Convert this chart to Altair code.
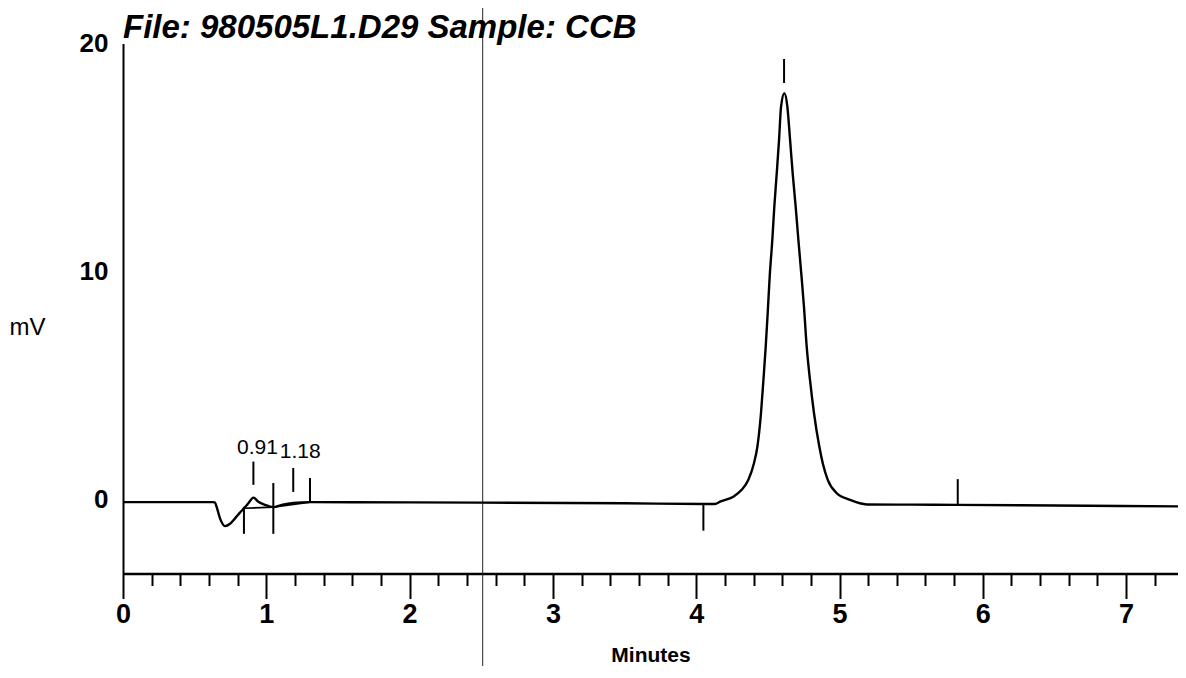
import altair as alt
import pandas as pd

FONT = "Liberation Sans"

# detector trace (minutes, mV)
trace_t = [0.0, 0.63, 0.642, 0.654, 0.677, 0.712, 0.747, 0.782, 0.816, 0.844,
           0.875, 0.91, 0.944, 0.991, 1.049, 1.107, 1.188, 1.305, 2.0, 2.5,
           3.5, 4.05, 4.131, 4.166, 4.259, 4.317, 4.364, 4.403, 4.427, 4.452,
           4.469, 4.485, 4.499, 4.513, 4.531, 4.545, 4.562, 4.578, 4.592, 4.615,
           4.636, 4.655, 4.673, 4.694, 4.713, 4.733, 4.752, 4.771, 4.794, 4.822,
           4.859, 4.883, 4.918, 4.981, 5.073, 5.19, 5.5, 5.825, 6.5, 7.42]
trace_mv = [-0.12, -0.12, -0.14, -0.34, -0.83, -1.17, -1.07, -0.83, -0.58, -0.39,
            -0.17, 0.08, -0.10, -0.24, -0.34, -0.24, -0.15, -0.12, -0.13, -0.14,
            -0.17, -0.20, -0.20, -0.10, 0.12, 0.42, 0.86, 1.59, 2.32, 3.78,
            5.24, 6.70, 8.2, 9.8, 11.38, 12.84, 14.31, 15.77, 17.23, 17.82,
            17.23, 15.77, 14.31, 12.84, 11.38, 9.92, 8.45, 6.70, 5.24, 3.78,
            2.32, 1.59, 0.86, 0.27, -0.02, -0.22, -0.23, -0.24, -0.27, -0.31]

# integration baseline segments under the small peaks
base_t = [0.844, 1.049, 1.305]
base_mv = [-0.39, -0.34, -0.12]

# peak start/apex/end markers
mark_t = [0.844, 0.91, 1.049, 1.188, 1.305, 4.05, 4.613, 5.825]
mark_lo = [-1.51, 0.64, -1.51, 0.33, -0.11, -1.37, 18.27, -0.24]
mark_hi = [-0.33, 1.66, 0.72, 1.38, 0.94, -0.20, 19.32, 0.89]

# retention-time labels
label_text = ["0.91", "1.18"]
label_t = [0.938, 1.237]
label_mv = [2.24, 2.06]

# timed event line
event_t = [2.51]

x_major = [0, 1, 2, 3, 4, 5, 6, 7]
x_minor = [0.2, 0.4, 0.6, 0.8, 1.2, 1.4, 1.6, 1.8, 2.2, 2.4, 2.6, 2.8,
           3.2, 3.4, 3.6, 3.8, 4.2, 4.4, 4.6, 4.8, 5.2, 5.4, 5.6, 5.8,
           6.2, 6.4, 6.6, 6.8, 7.2]
y_ticks = [0, 10, 20]

trace_df = pd.DataFrame({"t": trace_t, "mv": trace_mv})
base_df = pd.DataFrame({"t": base_t, "mv": base_mv})
mark_df = pd.DataFrame({"t": mark_t, "lo": mark_lo, "hi": mark_hi})
label_df = pd.DataFrame({"t": label_t, "mv": label_mv, "label": label_text})
event_df = pd.DataFrame({"t": event_t})

xscale = alt.Scale(domain=[0, 7.362], nice=False, zero=False)
yscale = alt.Scale(domain=[-3.25, 20], nice=False, zero=False)

major_axis = alt.Axis(
    values=x_major, format="d", orient="bottom", grid=False,
    tickSize=25, tickWidth=2, tickColor="black",
    domainWidth=2.5, domainColor="black",
    labelFont=FONT, labelFontSize=27, labelFontWeight="bold", labelColor="black",
    labelPadding=3, labelFlush=False, labelOverlap=False,
    title="Minutes", titleFont=FONT, titleFontSize=21, titleFontWeight="bold",
    titleColor="black", titleY=81.5, titleBaseline="middle",
)
minor_axis = alt.Axis(
    values=x_minor, orient="bottom", grid=False, domain=False, labels=False,
    tickSize=12, tickWidth=2, tickColor="black", title="",
)
y_axis = alt.Axis(
    values=y_ticks, orient="left", grid=False, ticks=False,
    domainWidth=2, domainColor="black",
    labelFont=FONT, labelFontSize=26, labelFontWeight="bold", labelColor="black",
    labelPadding=15, labelFlush=False,
    title="mV", titleFont=FONT, titleFontSize=24, titleFontWeight="normal",
    titleColor="black", titleAngle=0, titleX=-96, titleY=283.5,
    titleAlign="center", titleBaseline="middle",
)

event = alt.Chart(event_df).mark_rule(color="#222222", strokeWidth=1).encode(
    x=alt.X("t:Q", scale=xscale, axis=None),
    y=alt.value(-35.5), y2=alt.value(640),
)
trace = alt.Chart(trace_df).mark_line(
    interpolate="monotone", color="black", strokeWidth=2.4
).encode(
    x=alt.X("t:Q", scale=xscale, axis=major_axis),
    y=alt.Y("mv:Q", scale=yscale, axis=y_axis),
)
base = alt.Chart(base_df).mark_line(color="black", strokeWidth=1.6).encode(
    x=alt.X("t:Q", scale=xscale, axis=minor_axis),
    y=alt.Y("mv:Q", scale=yscale, axis=None),
)
markers = alt.Chart(mark_df).mark_rule(color="black", strokeWidth=2).encode(
    x=alt.X("t:Q", scale=xscale, axis=None),
    y=alt.Y("lo:Q", scale=yscale, axis=None),
    y2="hi:Q",
)
labels = alt.Chart(label_df).mark_text(
    font=FONT, fontSize=21, color="black", align="center", baseline="middle"
).encode(
    x=alt.X("t:Q", scale=xscale, axis=None),
    y=alt.Y("mv:Q", scale=yscale, axis=None),
    text="label:N",
)

chart = alt.layer(event, trace, base, markers, labels).resolve_axis(
    x="independent", y="independent"
).properties(
    width=1055, height=530,
    autosize=alt.AutoSizeParams(type="none"),
    padding={"left": 115, "top": 35.5, "right": 0, "bottom": 92.5},
    title=alt.TitleParams(
        text="File: 980505L1.D29 Sample: CCB", anchor="start", frame="group",
        font=FONT, fontSize=33, fontStyle="italic", fontWeight="bold",
        color="black", baseline="alphabetic", offset=0, dy=63,
    ),
).configure_view(strokeWidth=0)

chart.save("out.html", embed_options={"renderer": "svg", "actions": False})
